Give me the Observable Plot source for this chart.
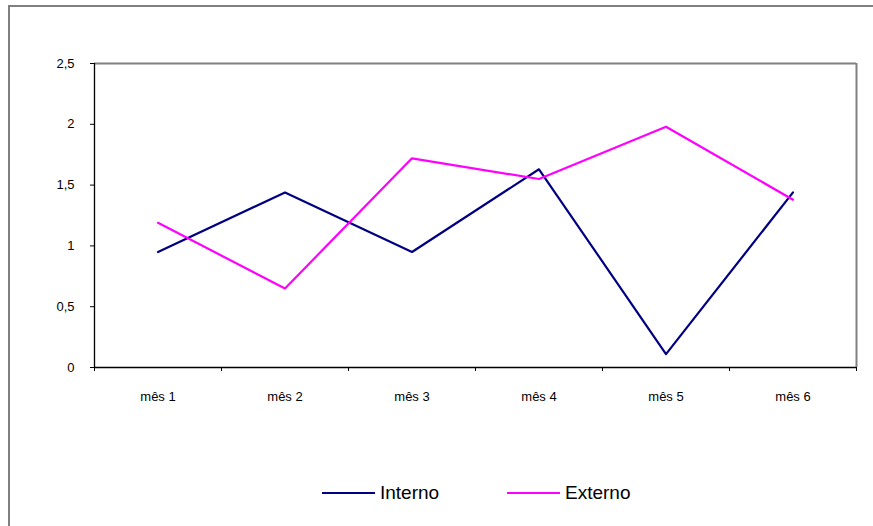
<!DOCTYPE html>
<html>
<head>
<meta charset="utf-8">
<script src="https://cdn.jsdelivr.net/npm/d3@7"></script>
<script src="https://cdn.jsdelivr.net/npm/@observablehq/plot@0.6"></script>
<style>
  html, body { margin: 0; padding: 0; background: #fff; overflow: hidden; }
  body { width: 873px; height: 526px; position: relative; font-family: "Liberation Sans", Arial, sans-serif; }
  #frame { position: absolute; left: 8px; top: 5px; width: 865px; height: 521px; border-left: 2px solid #808080; border-top: 2px solid #808080; box-sizing: border-box; }
  #chart { position: absolute; left: 0; top: 0; }
  #legend { position: absolute; top: 480px; left: 0; width: 873px; height: 26px; font-size: 19px; color: #000; }
  .item { position: absolute; top: 0; display: flex; align-items: center; height: 26px; }
  .swatch { width: 53px; height: 2.5px; margin-right: 5px; }
</style>
</head>
<body>
<div id="frame"></div>
<div id="chart"></div>
<div id="legend"></div>
<script>
const months = ["mês 1", "mês 2", "mês 3", "mês 4", "mês 5", "mês 6"];
const interno = [0.95, 1.44, 0.95, 1.63, 0.11, 1.44];
const externo = [1.19, 0.65, 1.72, 1.55, 1.98, 1.38];
const seriesNames = ["Interno", "Externo"];
const seriesColors = ["#000080", "#FF00FF"];
const yTicks = [0, 0.5, 1, 1.5, 2, 2.5];

const rows = [];
months.forEach((m, i) => {
  rows.push({series: "Interno", idx: i + 1, value: interno[i]});
  rows.push({series: "Externo", idx: i + 1, value: externo[i]});
});
const centers = months.map((m, i) => i + 1);
const bounds = d3.range(0, months.length + 1).map(i => i + 0.5);

const plot = Plot.plot({
  width: 873,
  height: 420,
  marginLeft: 94,
  marginRight: 17,
  marginTop: 63,
  marginBottom: 53,
  style: {fontFamily: "Liberation Sans, Arial, sans-serif", fontSize: "13px", color: "#000", background: "transparent"},
  x: {type: "linear", domain: [0.5, months.length + 0.5]},
  y: {domain: [0, 2.5]},
  color: {domain: seriesNames, range: seriesColors},
  marks: [
    Plot.ruleY([2.5], {stroke: "#808080", strokeWidth: 2}),
    Plot.ruleX([months.length + 0.5], {stroke: "#808080", strokeWidth: 2}),
    Plot.line(rows, {x: "idx", y: "value", z: "series", stroke: d => d.series, strokeWidth: 2.2}),
    Plot.ruleX([0.5], {stroke: "#000", strokeWidth: 1.3}),
    Plot.ruleY([0], {stroke: "#000", strokeWidth: 1.3}),
    Plot.axisY({ticks: yTicks, tickSize: 4, tickPadding: 16, tickFormat: d => String(d).replace(".", ","), label: null, stroke: "#000", fill: "#000"}),
    Plot.axisX({ticks: bounds, tickSize: 4, tickFormat: () => "", label: null, stroke: "#000"}),
    Plot.axisX({ticks: centers, tickSize: 0, tickPadding: 24, tickFormat: d => months[d - 1], label: null, fill: "#000"})
  ]
});
document.getElementById("chart").appendChild(plot);

const legend = document.getElementById("legend");
const lefts = [322, 507];
seriesNames.forEach((name, i) => {
  const it = document.createElement("div");
  it.className = "item";
  it.style.left = lefts[i] + "px";
  const sw = document.createElement("div");
  sw.className = "swatch";
  sw.style.background = seriesColors[i];
  const tx = document.createElement("span");
  tx.textContent = name;
  it.appendChild(sw);
  it.appendChild(tx);
  legend.appendChild(it);
});
</script>
</body>
</html>
